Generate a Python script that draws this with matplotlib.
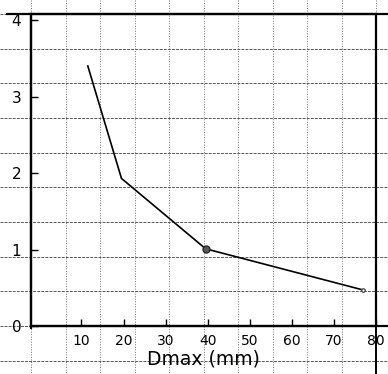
import numpy as np
import matplotlib
matplotlib.use("Agg")
import matplotlib.pyplot as plt

# Measured curve: maximum aggregate size vs. the plotted quantity
dmax_mm = [11.5, 19.5, 39.5, 77.0]
values = [3.40, 1.93, 1.01, 0.47]

x_ticks = [10, 20, 30, 40, 50, 60, 70, 80]
y_ticks = [0, 1, 2, 3, 4]
x_label = "Dmax (mm)"

W, H = 388, 374
fig = plt.figure(figsize=(W / 100, H / 100), dpi=100)

# plot frame in pixel units
left_px, right_px, top_px, bottom_px = 31, 376, 14, 326

# graph-paper background covering the whole sheet
bg = fig.add_axes([0, 0, 1, 1], zorder=0)
bg.set_xlim(0, W)
bg.set_ylim(H, 0)
bg.axis("off")
step_x = (right_px - left_px) / 10
step_y = (bottom_px - top_px) / 9
for gx in left_px + step_x * np.arange(-1, 12):
    bg.plot([gx, gx], [0, H], color="0.45", lw=0.7, ls=(0, (1, 1.6)))
for gy in top_px + step_y * np.arange(-1, 11):
    bg.plot([0, W], [gy, gy], color="0.35", lw=0.7, ls=(0, (3, 1.2)))

# hand-ruled border extensions beyond the frame
bg.plot([7, W], [top_px, top_px], color="black", lw=1.6)
bg.plot([left_px, W], [bottom_px, bottom_px], color="black", lw=1.6)
bg.plot([right_px, right_px], [top_px, H], color="black", lw=1.4)
bg.plot([left_px, left_px], [top_px, bottom_px + 2], color="black", lw=1.6)

ax = fig.add_axes([left_px / W, (H - bottom_px) / H,
                   (right_px - left_px) / W, (bottom_px - top_px) / H], zorder=1)
ax.patch.set_alpha(0)
ax.set_xlim(-2, 80)
ax.set_ylim(0, 4.08)
for s in ax.spines.values():
    s.set_linewidth(1.6)
    s.set_color("black")

ax.plot(dmax_mm, values, color="black", lw=1.2)
ax.plot(dmax_mm[2], values[2], "o", color="0.15", ms=5, mfc="0.35", mew=1)
ax.plot(dmax_mm[3], values[3], "o", color="0.2", ms=2.5, mfc="white", mew=0.8)

ax.set_xticks(x_ticks)
ax.set_yticks(y_ticks)
ax.set_xticklabels([str(t) for t in x_ticks])
ax.set_yticklabels([str(t) for t in y_ticks])
ax.tick_params(axis="both", direction="in", length=5, width=1, color="black")
ax.tick_params(axis="x", labelsize=10, pad=6)
ax.tick_params(axis="y", labelsize=11, pad=7)

ax.set_xlabel(x_label, fontsize=13.5, labelpad=1)

fig.savefig("out.png", dpi=100)
